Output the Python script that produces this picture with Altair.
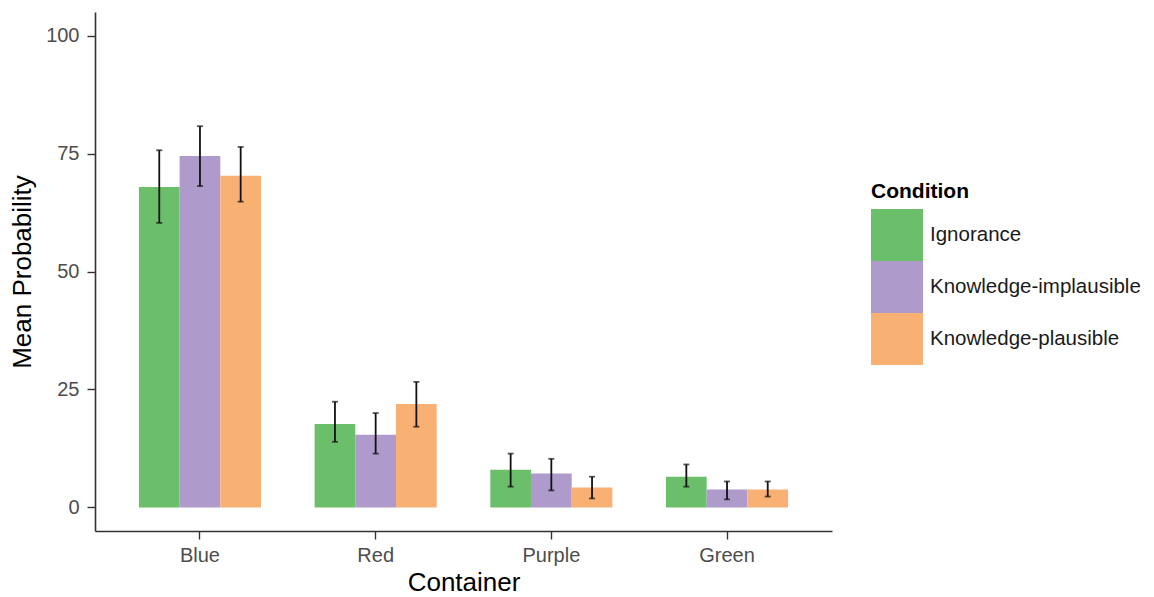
import altair as alt
import pandas as pd

containers = ["Blue", "Red", "Purple", "Green"]
conditions = ["Ignorance", "Knowledge-implausible", "Knowledge-plausible"]
colors = ["#6cbf6a", "#ae9bcb", "#f9b173"]

# mean, lower, upper per container x condition
means = [
    [67.9, 74.5, 70.3],
    [17.7, 15.4, 21.9],
    [8.0, 7.2, 4.2],
    [6.5, 3.8, 3.8],
]
lows = [
    [60.3, 68.1, 64.8],
    [13.9, 11.4, 17.1],
    [4.4, 3.6, 1.9],
    [4.4, 1.7, 2.3],
]
highs = [
    [75.7, 80.8, 76.4],
    [22.4, 20.0, 26.6],
    [11.4, 10.3, 6.5],
    [9.1, 5.5, 5.5],
]

rows = []
for i, c in enumerate(containers):
    for j, cond in enumerate(conditions):
        rows.append({
            "Container": c,
            "Condition": cond,
            "mean": means[i][j],
            "lo": lows[i][j],
            "hi": highs[i][j],
            "zero": 0,
        })
df = pd.DataFrame(rows)

xenc = alt.X(
    "Container:N",
    sort=containers,
    title="Container",
    scale=alt.Scale(paddingInner=0.305, paddingOuter=0.25),
    axis=alt.Axis(labelAngle=0),
)
xoff = alt.XOffset("Condition:N", sort=conditions, scale=alt.Scale(paddingInner=0, paddingOuter=0))
yscale = alt.Scale(domain=[-5, 105], nice=False, zero=False)

base = alt.Chart(df)

bars = base.mark_bar().encode(
    x=xenc,
    xOffset=xoff,
    y=alt.Y("mean:Q", scale=yscale, title="Mean Probability",
            axis=alt.Axis(values=[0, 25, 50, 75, 100])),
    y2="zero:Q",
    color=alt.Color(
        "Condition:N",
        sort=conditions,
        scale=alt.Scale(domain=conditions, range=colors),
        legend=alt.Legend(
            title="Condition",
            orient="none",
            legendX=776,
            legendY=169,
            symbolType="square",
            symbolSize=2704,
            symbolStrokeWidth=0,
            symbolOpacity=1,
            labelFontSize=20.5,
            labelColor="#1a1a1a",
            labelOffset=7,
            labelLimit=400,
            titleFontSize=21,
            titleFontWeight="bold",
            titleColor="#000000",
            titlePadding=7,
            rowPadding=-1,
        ),
    ),
)

rules = base.mark_rule(color="#111111", strokeWidth=1.8).encode(
    x=xenc,
    xOffset=xoff,
    y=alt.Y("lo:Q", scale=yscale),
    y2="hi:Q",
)

caps_lo = base.mark_tick(color="#111111", thickness=1.8, size=6, orient="horizontal").encode(
    x=xenc, xOffset=xoff, y=alt.Y("lo:Q", scale=yscale)
)
caps_hi = base.mark_tick(color="#111111", thickness=1.8, size=6, orient="horizontal").encode(
    x=xenc, xOffset=xoff, y=alt.Y("hi:Q", scale=yscale)
)

chart = (
    alt.layer(bars, rules, caps_lo, caps_hi)
    .properties(
        width=737,
        height=519,
        autosize=alt.AutoSizeParams(type="none"),
        padding={"left": 87, "top": 4, "right": 314, "bottom": 70},
    )
    .configure(font="Liberation Sans")
    .configure_view(stroke=None)
    .configure_axis(
        grid=False,
        domainColor="#333333",
        domainWidth=1.6,
        tickColor="#333333",
        tickWidth=1.4,
        tickSize=8,
        labelColor="#4d4d4d",
        labelFontSize=20,
        titleFontSize=26,
        titleFontWeight="normal",
        titleColor="#000000",
    )
    .configure_axisX(titlePadding=4, labelPadding=6)
    .configure_axisY(titlePadding=10, labelPadding=8)
)

chart.save("out.html", embed_options={"renderer": "svg", "actions": False})
